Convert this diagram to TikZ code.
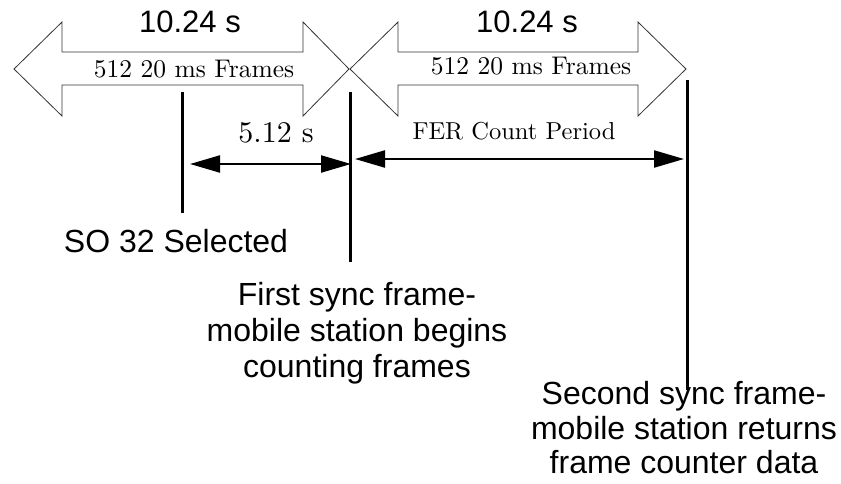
\documentclass[tikz,border=0pt]{standalone}
\usepackage{fontspec}
\setsansfont{Liberation Sans}
\newfontfamily\seriften{lmroman10-regular.otf}
\usetikzlibrary{arrows.meta}
\begin{document}
\begin{tikzpicture}[x=1pt,y=-1pt,
  bigarrow/.style={draw=black!80,line width=0.8pt,line join=miter},
  marker/.style={line width=3pt},
  dimarrow/.style={line width=2.2pt,{Triangle[length=30pt,width=17pt]}-{Triangle[length=30pt,width=17pt]}},
  sanslabel/.style={inner sep=0pt,font=\sffamily\fontsize{32}{35}\selectfont,align=center},
  toplabel/.style={inner sep=0pt,anchor=base,font=\sffamily\fontsize{31}{35}\selectfont},
  framelabel/.style={inner sep=0pt,anchor=base,font=\seriften\fontsize{25.5}{28}\selectfont},
  durlabel/.style={inner sep=0pt,anchor=base,font=\seriften\fontsize{30}{34}\selectfont}]
\useasboundingbox (0,0) rectangle (841,483);
% big outline double arrows
\draw[bigarrow] (14,69) -- (62,22) -- (62,52) -- (303,52) -- (303,22) -- (349,69)
  -- (303,116) -- (303,85) -- (62,85) -- (62,116) -- cycle;
\draw[bigarrow] (350,69) -- (398,22) -- (398,52) -- (638,52) -- (638,22) -- (686,69)
  -- (638,116) -- (638,85) -- (398,85) -- (398,116) -- cycle;
% labels on the big arrows
\node[toplabel] (t1) at (190,32) {10.24 s};
\node[toplabel] (t2) at (527,32) {10.24 s};
\node[framelabel] (f1) at (194,77) {512 20 ms Frames};
\node[framelabel] (f2) at (531,74) {512 20 ms Frames};
% vertical markers
\coordinate (v1t) at (182,92);
\coordinate (v1b) at (182,213);
\coordinate (v2t) at (350,92);
\coordinate (v2b) at (350,262);
\coordinate (v3t) at (687,80);
\coordinate (v3b) at (687,390);
\draw[marker] (v1t) -- (v1b);
\draw[marker] (v2t) -- (v2b);
\draw[marker] (v3t) -- (v3b);
% dimension arrows
\coordinate (d1s) at (190,164);
\coordinate (d1e) at (351,164);
\coordinate (d2s) at (355,159);
\coordinate (d2e) at (684,159);
\draw[dimarrow] (d1s) -- (d1e);
\draw[dimarrow] (d2s) -- (d2e);
\node[durlabel] (half) at (276,142) {5.12 s};
\node[inner sep=0pt,anchor=base,font=\seriften\fontsize{24.5}{28}\selectfont] (fer) at (514,139) {FER Count Period};
% event labels
\node[sanslabel,anchor=base] (so) at (176,252) {SO 32 Selected};
\node[sanslabel,anchor=north,font=\sffamily\fontsize{32}{36}\selectfont] (first) at (357,282.5)
  {First sync frame-\\mobile station begins\\counting frames};
\node[sanslabel,anchor=north,font=\sffamily\fontsize{32}{34.5}\selectfont] (second) at (684,381.5)
  {Second sync frame-\\mobile station returns\\frame counter data};
\end{tikzpicture}
\end{document}
